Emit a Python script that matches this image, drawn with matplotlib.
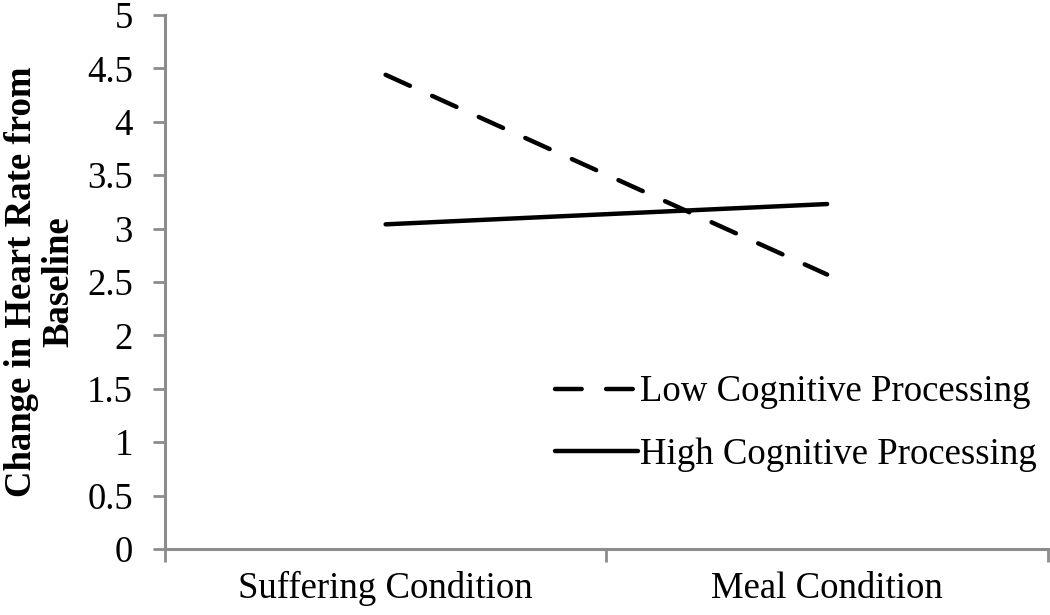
import matplotlib
matplotlib.use("Agg")
import matplotlib.pyplot as plt

categories = ["Suffering Condition", "Meal Condition"]
low_values = [4.44, 2.57]
high_values = [3.04, 3.23]
series_names = ["Low Cognitive Processing", "High Cognitive Processing"]
yticks = [0, 0.5, 1, 1.5, 2, 2.5, 3, 3.5, 4, 4.5, 5]
ylabel = "Change in Heart Rate from\nBaseline"

plt.rcParams['font.family'] = ['Liberation Serif', 'DejaVu Serif']
FS = 26.5
AXC = '#8c8c8c'

fig = plt.figure(figsize=(10.5, 6.15), dpi=100)
ax = fig.add_axes([0.157, 0.1073, 0.841, 0.8683])

xpos = [i + 0.5 for i in range(len(categories))]
ax.plot(xpos, low_values, color='black', lw=3.2, linestyle=(0, (6, 5.5)),
        dash_capstyle='round', label=series_names[0])
ax.plot(xpos, high_values, color='black', lw=3.2, solid_capstyle='round',
        label=series_names[1])

ax.set_xlim(0, len(categories))
ax.set_ylim(0, 5)
ax.set_yticks(yticks)
ax.set_yticklabels([f"{t:g}" for t in yticks])
ax.set_xticks(range(len(categories) + 1))
ax.set_xticklabels([])
ax.set_xticks(xpos, minor=True)
ax.set_xticklabels(categories, minor=True)
ax.tick_params(axis='x', which='minor', length=0, pad=16, labelsize=FS)
ax.tick_params(axis='x', which='major', length=9, width=2, color=AXC, direction='out')
ax.tick_params(axis='y', length=9, width=2, color=AXC, direction='out',
               labelsize=FS, pad=14)

for s in ['top', 'right']:
    ax.spines[s].set_visible(False)
for s in ['left', 'bottom']:
    ax.spines[s].set_color(AXC)
    ax.spines[s].set_linewidth(2.2)

fig.text(40 / 1050, 1 - 282 / 615, ylabel, rotation=90, ha='center', va='center',
         multialignment='center', fontsize=FS, fontweight='bold', linespacing=1.1)

leg = ax.legend(loc='upper left', bbox_to_anchor=(0.4417, 0.326), frameon=False,
                fontsize=FS, handlelength=2.25, handletextpad=0.05, labelspacing=0.77,
                borderaxespad=0, borderpad=0)

fig.savefig("out.png", dpi=100)
